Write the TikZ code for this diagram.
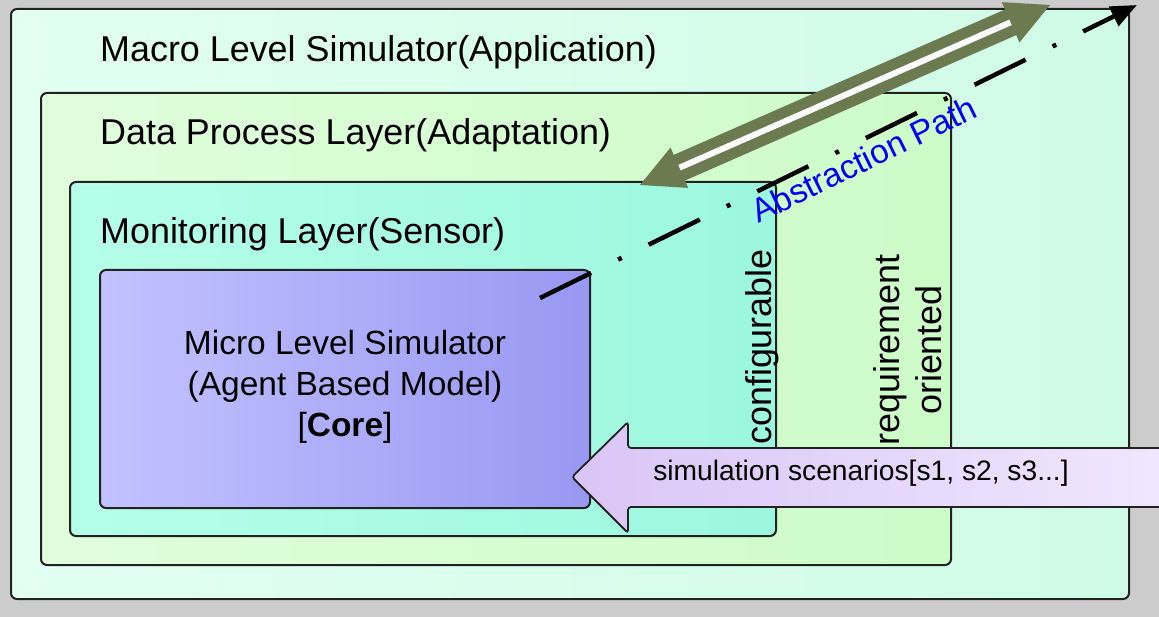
\documentclass[tikz,border=0pt]{standalone}
\usepackage{fontspec}
\setmainfont{Liberation Sans}
\usetikzlibrary{arrows.meta,calc}

\definecolor{canvas}{HTML}{CCCCCC}
\definecolor{macroL}{HTML}{E2FFF2}
\definecolor{macroR}{HTML}{CFFCE6}
\definecolor{dataL}{HTML}{E0FDDC}
\definecolor{dataR}{HTML}{CCFCC8}
\definecolor{monL}{HTML}{B6FEE8}
\definecolor{monR}{HTML}{9CF7DE}
\definecolor{coreL}{HTML}{C2C2FF}
\definecolor{coreR}{HTML}{9898F2}
\definecolor{scenL}{HTML}{D9C5F6}
\definecolor{scenR}{HTML}{F1E7FF}
\definecolor{olivegreen}{HTML}{6C7A4F}
\definecolor{framecol}{HTML}{222222}

\tikzset{
  layer/.style={draw=framecol, line width=2pt, rounded corners=6pt},
  title/.style={anchor=base west, inner sep=0pt, font=\fontsize{35.9}{43}\selectfont},
  sidelabel/.style={rotate=90, inner sep=0pt, align=center, font=\fontsize{35.9}{42}\selectfont},
  abspath/.style={line width=4.5pt, dash pattern=on 57pt off 30pt on 4pt off 30pt,
                  -{Triangle[length=26pt,width=21pt]}},
  olivebar/.style={draw=olivegreen, line width=11pt, double=white, double distance=6pt},
  olivehead/.style={fill=olivegreen},
}

\begin{document}
\begin{tikzpicture}[x=1pt,y=-1pt]
\useasboundingbox (0,0) rectangle (1159,617);
\clip (0,0) rectangle (1159,617);
\fill[canvas] (0,0) rectangle (1159,617);

% nested layers
\draw[layer, left color=macroL, right color=macroR] (11,9) rectangle (1129,599);
\draw[layer, left color=dataL, right color=dataR] (41,93) rectangle (951,565);
\draw[layer, left color=monL, right color=monR] (70,182) rectangle (776,536);
\draw[layer, left color=coreL, right color=coreR] (100,270) rectangle (590,508);

% layer titles
\node[title] (macro) at (100,62) {Macro Level Simulator(Application)};
\node[title] (data) at (100,145) {Data Process Layer(Adaptation)};
\node[title] (mon) at (100,244) {Monitoring Layer(Sensor)};

\node[align=center, inner sep=0pt, font=\fontsize{33.5}{41}\selectfont] (core) at (345,387)
  {Micro Level Simulator\\(Agent Based Model)\\{[}\textbf{Core}{]}};

% side labels
\node[sidelabel, anchor=base] (conf) at (771,347) {configurable};
\node[sidelabel] (req) at (908,350) {requirement\\oriented};

% scenarios arrow
\draw[draw=framecol, line width=1.8pt, left color=scenL, right color=scenR, rounded corners=3pt]
  (572,477) -- (628,422) -- (628,448) -- (1175,448) -- (1175,507) -- (628,507) -- (628,533) -- cycle;
\node[inner sep=0pt, font=\fontsize{28.2}{34}\selectfont] (scen) at (861,473)
  {simulation scenarios[s1, s2, s3...]};

% abstraction path
\coordinate (pathStart) at (540,298);
\coordinate (pathEnd) at (1137,5);
\draw[abspath] (pathStart) -- (pathEnd);
\node[rotate=26, anchor=base, inner sep=0pt, text=blue, font=\fontsize{33.5}{40}\selectfont]
  (abs) at (869,170) {Abstraction Path};

% double-headed olive arrow
\coordinate (barL) at (640,185);
\coordinate (barR) at (1050,5);
\coordinate (baseL) at ($(barL)!43pt!(barR)$);
\coordinate (baseR) at ($(barR)!43pt!(barL)$);
\draw[olivebar] ($(barL)!40pt!(barR)$) -- ($(barR)!40pt!(barL)$);
\fill[olivehead] (barL) -- ($(baseL)!22pt!90:(barL)$) -- ($(baseL)!22pt!-90:(barL)$) -- cycle;
\fill[olivehead] (barR) -- ($(baseR)!22pt!90:(barR)$) -- ($(baseR)!22pt!-90:(barR)$) -- cycle;
\end{tikzpicture}
\end{document}
